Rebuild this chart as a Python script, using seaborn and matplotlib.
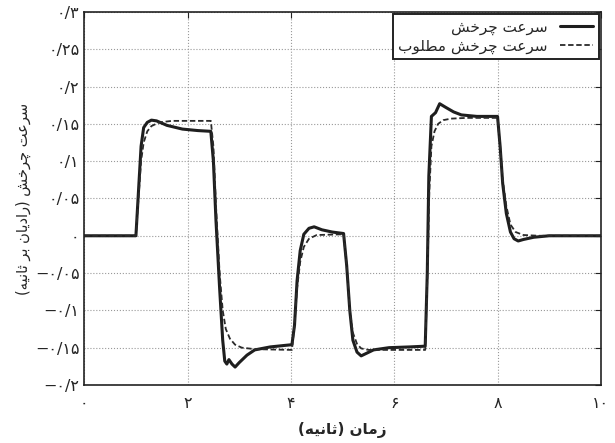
import numpy as np
import pandas as pd
import seaborn as sns
import matplotlib.pyplot as plt

# time (s) and speed (rad/s)
t_actual = [0, 1.0, 1.05, 1.1, 1.15, 1.22, 1.3, 1.4, 1.6, 1.9, 2.2, 2.45, 2.5, 2.55, 2.62,
            2.68, 2.72, 2.76, 2.8, 2.86, 2.92, 3.0, 3.15, 3.3, 3.6, 4.02, 4.07, 4.12, 4.18,
            4.25, 4.35, 4.45, 4.6, 4.8, 5.02, 5.08, 5.14, 5.2, 5.28, 5.36, 5.45, 5.6, 5.9,
            6.3, 6.6, 6.64, 6.67, 6.72, 6.8, 6.88, 7.0, 7.15, 7.3, 7.6, 8.0, 8.05, 8.1,
            8.17, 8.25, 8.32, 8.4, 8.5, 8.7, 9.0, 10.0]
w_actual = [0, 0, 0.06, 0.12, 0.145, 0.152, 0.155, 0.154, 0.148, 0.143, 0.141, 0.14, 0.10,
            0.02, -0.07, -0.14, -0.168, -0.172, -0.166, -0.172, -0.176, -0.17, -0.16, -0.153,
            -0.149, -0.146, -0.12, -0.06, -0.02, 0.002, 0.01, 0.012, 0.008, 0.005, 0.003,
            -0.04, -0.1, -0.14, -0.156, -0.161, -0.158, -0.153, -0.15, -0.149, -0.148, -0.05,
            0.08, 0.16, 0.165, 0.177, 0.172, 0.166, 0.162, 0.16, 0.16, 0.12, 0.07, 0.03,
            0.005, -0.004, -0.007, -0.005, -0.002, 0.0, 0.0]

t_desired = [0, 1.0, 1.05, 1.1, 1.15, 1.22, 1.3, 1.45, 1.7, 2.45, 2.5, 2.55, 2.62, 2.68,
             2.74, 2.82, 2.92, 3.05, 3.3, 4.02, 4.07, 4.12, 4.18, 4.25, 4.35, 4.5, 5.02,
             5.08, 5.14, 5.2, 5.28, 5.36, 5.5, 6.6, 6.64, 6.68, 6.72, 6.78, 6.85, 6.95, 7.1,
             7.4, 8.0, 8.05, 8.1, 8.17, 8.25, 8.35, 8.5, 8.8, 10.0]
w_desired = [0, 0, 0.05, 0.1, 0.125, 0.14, 0.147, 0.152, 0.154, 0.154, 0.12, 0.04, -0.05,
             -0.1, -0.125, -0.138, -0.146, -0.15, -0.152, -0.153, -0.12, -0.07, -0.035,
             -0.015, -0.004, 0.001, 0.002, -0.04, -0.1, -0.13, -0.145, -0.151, -0.153,
             -0.153, -0.06, 0.06, 0.12, 0.14, 0.15, 0.155, 0.157, 0.158, 0.158, 0.12, 0.075,
             0.04, 0.015, 0.005, 0.001, 0.0, 0.0]

x_ticks = [0, 2, 4, 6, 8, 10]
x_tick_labels = ['۰', '۲', '۴', '۶', '۸', '۱۰']
y_ticks = [-0.2, -0.15, -0.1, -0.05, 0, 0.05, 0.1, 0.15, 0.2, 0.25, 0.3]
y_tick_labels = ['−۰/۲', '−۰/۱۵', '−۰/۱', '−۰/۰۵', '۰', '۰/۰۵', '۰/۱', '۰/۱۵',
                 '۰/۲', '۰/۲۵', '۰/۳']

label_actual = 'سرعت چرخش'
label_desired = 'سرعت چرخش مطلوب'
x_label = 'زمان (ثانیه)'
y_label = 'سرعت چرخش (رادیان بر ثانیه)'

# matplotlib does no arabic shaping, so pick presentation forms by hand
FORMS = {
    'ا': (0xFE8D, 0xFE8E), 'د': (0xFEA9, 0xFEAA), 'ر': (0xFEAD, 0xFEAE),
    'ز': (0xFEAF, 0xFEB0), 'و': (0xFEED, 0xFEEE),
    'ب': (0xFE8F, 0xFE90, 0xFE91, 0xFE92), 'ت': (0xFE95, 0xFE96, 0xFE97, 0xFE98),
    'ث': (0xFE99, 0xFE9A, 0xFE9B, 0xFE9C), 'خ': (0xFEA5, 0xFEA6, 0xFEA7, 0xFEA8),
    'س': (0xFEB1, 0xFEB2, 0xFEB3, 0xFEB4), 'ش': (0xFEB5, 0xFEB6, 0xFEB7, 0xFEB8),
    'ط': (0xFEC1, 0xFEC2, 0xFEC3, 0xFEC4), 'ع': (0xFEC9, 0xFECA, 0xFECB, 0xFECC),
    'ل': (0xFEDD, 0xFEDE, 0xFEDF, 0xFEE0), 'م': (0xFEE1, 0xFEE2, 0xFEE3, 0xFEE4),
    'ن': (0xFEE5, 0xFEE6, 0xFEE7, 0xFEE8), 'ه': (0xFEE9, 0xFEEA, 0xFEEB, 0xFEEC),
    'ی': (0xFBFC, 0xFBFD, 0xFBFE, 0xFBFF), 'چ': (0xFB7A, 0xFB7B, 0xFB7C, 0xFB7D),
}


def fa(s):
    out = []
    for i, c in enumerate(s):
        f = FORMS.get(c)
        if f is None:
            out.append(c)
            continue
        prev = s[i - 1] if i > 0 else ''
        nxt = s[i + 1] if i + 1 < len(s) else ''
        jp = prev in FORMS and len(FORMS[prev]) == 4
        jn = len(f) == 4 and nxt in FORMS
        k = 3 if (jp and jn) else 1 if jp else 2 if jn else 0
        out.append(chr(f[k]))
    vis = ''.join(reversed(out))
    return vis.translate(str.maketrans('()', ')('))


sns.set_style("white")
plt.rcParams['font.family'] = ['DejaVu Sans']

df_a = pd.DataFrame({'t': t_actual, 'w': w_actual})
df_d = pd.DataFrame({'t': t_desired, 'w': w_desired})

fig = plt.figure(figsize=(6.15, 4.43), dpi=100)
ax = fig.add_axes([0.137, 0.131, 0.84, 0.842])

sns.lineplot(data=df_a, x='t', y='w', ax=ax, color='#1e1e1e', linewidth=2.2,
             estimator=None, sort=False, label=fa(label_actual))
sns.lineplot(data=df_d, x='t', y='w', ax=ax, color='#2a2a2a', linewidth=1.3,
             estimator=None, sort=False, linestyle=(0, (3, 1.5)), label=fa(label_desired))

ax.set_xlim(0, 10)
ax.set_ylim(-0.2, 0.3)
ax.set_xticks(x_ticks)
ax.set_xticklabels(x_tick_labels, fontsize=11.5)
ax.set_yticks(y_ticks)
ax.set_yticklabels(y_tick_labels, fontsize=11.5)
ax.tick_params(direction='in', top=True, right=True, length=4, color='#222222')
ax.tick_params(axis='x', pad=8)
ax.grid(True, color='#999999', linestyle=':', linewidth=0.8)
for sp in ax.spines.values():
    sp.set_color('#222222')
    sp.set_linewidth(1.2)

ax.set_xlabel(fa(x_label), fontsize=11, fontweight='bold', labelpad=8)
ax.set_ylabel(fa(y_label), fontsize=10.5, labelpad=3)

leg = ax.legend(loc='upper right', markerfirst=False, fancybox=False, framealpha=1,
                edgecolor='#222222', fontsize=11, handlelength=2.2,
                borderpad=0.35, labelspacing=0.25, borderaxespad=0.15)
leg.get_frame().set_linewidth(1.4)

fig.savefig('out.png', dpi=100)
